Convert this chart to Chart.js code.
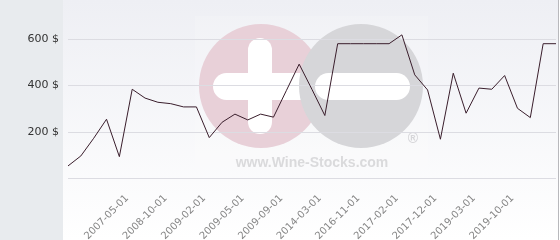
<!DOCTYPE html>
<html>
<head>
<meta charset="utf-8">
<script src="https://cdn.jsdelivr.net/npm/chart.js@4"></script>
<style>
html,body{margin:0;padding:0;background:#fff;}
#wrap{width:560px;height:240px;position:relative;}
</style>
</head>
<body>
<div id="wrap"><canvas id="c" width="560" height="240"></canvas></div>
<script>
const categories = ['', '', '', '', '', '2007-05-01', '', '', '2008-10-01', '', '', '2009-02-01', '', '', '2009-05-01', '', '', '2009-09-01', '', '', '2014-03-01', '', '', '2016-11-01', '', '', '2017-02-01', '', '', '2017-12-01', '', '', '2019-03-01', '', '', '2019-10-01', '', '', ''];
const prices = [54, 97, 173, 255, 94, 384, 346, 328, 322, 308, 308, 176, 242, 277, 252, 277, 264, 378, 492, 383, 271, 580, 580, 580, 580, 580, 618, 446, 381, 169, 453, 281, 389, 384, 443, 302, 262, 580, 580];
const yTicks = [0, 200, 400, 600];
const yMax = 768;
const watermarkText = 'www.Wine-Stocks.com';

function pill(ctx, x, y, w, h) {
  ctx.beginPath();
  ctx.roundRect(x, y, w, h, Math.min(w, h) / 2);
  ctx.fill();
}

const bgPlugin = {
  id: 'bg',
  beforeDraw(chart) {
    const ctx = chart.ctx;
    ctx.save();
    ctx.fillStyle = '#ffffff';
    ctx.fillRect(0, 0, 560, 240);
    ctx.fillStyle = '#e8ebee';
    ctx.fillRect(0, 0, 63, 240);
    const g = ctx.createLinearGradient(0, 0, 0, 240);
    g.addColorStop(0, '#eeeff4');
    g.addColorStop(1, '#ffffff');
    ctx.fillStyle = g;
    ctx.fillRect(63, 0, 495, 240);
    ctx.fillStyle = '#b8b8bc';
    ctx.fillRect(558, 0, 1, 240);

    // watermark
    ctx.fillStyle = 'rgba(255,255,255,0.15)';
    ctx.fillRect(195, 16, 233, 158);
    ctx.fillStyle = '#e8d0d8';
    ctx.beginPath(); ctx.arc(261, 86, 62, 0, Math.PI * 2); ctx.fill();
    ctx.fillStyle = '#ffffff';
    pill(ctx, 248, 38, 24, 96);
    pill(ctx, 213, 73, 100, 27);
    ctx.fillStyle = '#d6d6d9';
    ctx.beginPath(); ctx.arc(361, 86, 62, 0, Math.PI * 2); ctx.fill();
    ctx.fillStyle = '#ffffff';
    pill(ctx, 315, 73, 95, 27);
    ctx.fillStyle = '#dadadc';
    ctx.font = 'bold 14px "Liberation Sans", Arial, sans-serif';
    ctx.textAlign = 'center';
    ctx.textBaseline = 'alphabetic';
    ctx.fillText(watermarkText, 312, 167);
    ctx.fillStyle = '#d6d6d9';
    ctx.font = 'bold 14px "Liberation Sans", Arial, sans-serif';
    ctx.fillText('\u00AE', 413, 143);
    ctx.restore();
  }
};

new Chart(document.getElementById('c'), {
  type: 'line',
  data: {
    labels: categories,
    datasets: [{
      data: prices,
      borderColor: '#3a1e2c',
      borderWidth: 1,
      pointRadius: 0,
      tension: 0,
      fill: false,
      clip: false
    }]
  },
  options: {
    responsive: false,
    animation: false,
    devicePixelRatio: 1,
    layout: { padding: { left: 0, right: 4, top: 0, bottom: 0 } },
    plugins: { legend: { display: false }, tooltip: { enabled: false } },
    scales: {
      x: {
        offset: false,
        grid: { display: false, drawTicks: false },
        border: { display: false },
        ticks: {
          autoSkip: false,
          minRotation: 45,
          maxRotation: 45,
          padding: 14,
          labelOffset: -5,
          color: '#858585',
          font: { family: '"DejaVu Sans", sans-serif', size: 10 }
        },
        afterFit(scale) { scale.height = 61.5; scale.paddingLeft = 0; scale.paddingRight = 0; }
      },
      y: {
        min: 0,
        max: yMax,
        afterBuildTicks(scale) { scale.ticks = yTicks.map(v => ({ value: v })); },
        grid: { color: '#dcdce2', lineWidth: 1, drawTicks: false },
        border: { display: false },
        ticks: {
          padding: 9,
          color: '#333333',
          font: { family: '"DejaVu Sans", sans-serif', size: 11 },
          callback: (v) => v === 0 ? '' : v + ' $'
        },
        afterFit(scale) { scale.width = 68; scale.paddingTop = 0; scale.paddingBottom = 0; }
      }
    }
  },
  plugins: [bgPlugin]
});
</script>
</body>
</html>
